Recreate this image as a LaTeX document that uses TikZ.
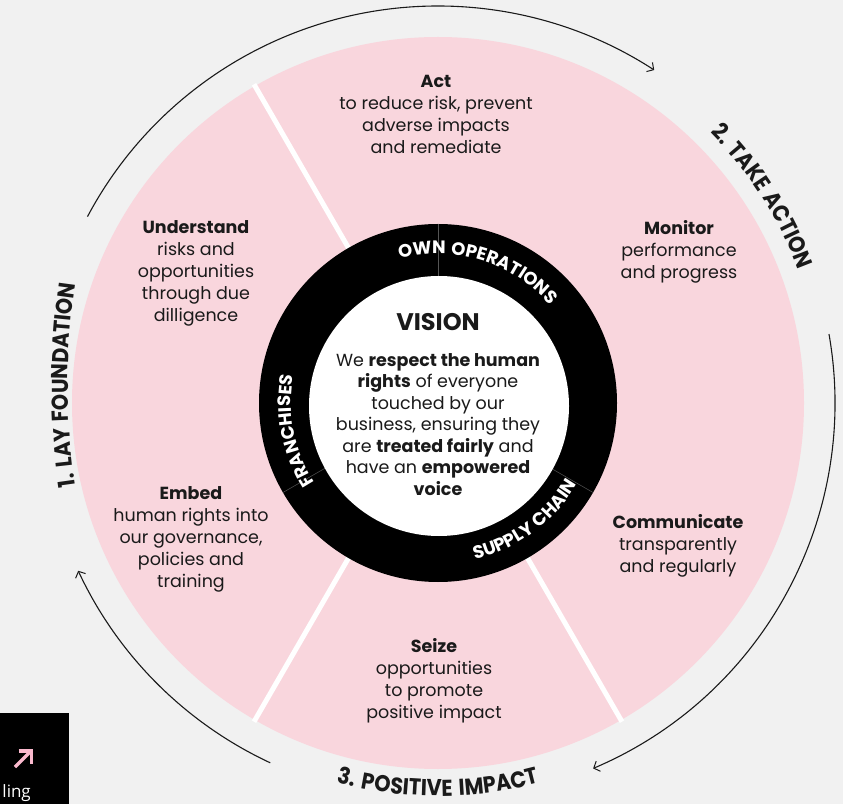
\documentclass[tikz,border=0pt]{standalone}
\usepackage{fontspec}
\setmainfont{Poppins}
\newfontfamily\capsfont[FakeStretch=0.9,LetterSpace=8]{Poppins}
\newfontfamily\ringfont[LetterSpace=5]{Poppins}
\newfontfamily\uifont{Open Sans}
\usetikzlibrary{arrows.meta,decorations.text}
\definecolor{bgc}{RGB}{241,241,241}
\definecolor{pinkf}{RGB}{249,214,221}
\definecolor{ink}{RGB}{26,26,26}
\definecolor{arrowpink}{RGB}{250,185,205}
\definecolor{divgray}{RGB}{85,85,85}
\begin{document}
\begin{tikzpicture}[x=1pt,y=1pt,
  body/.style={align=center, anchor=north, inner sep=0pt, text=ink, font=\fontsize{17.5}{22}\selectfont},
  cyclearrow/.style={line width=1.1pt, draw=ink, -{Straight Barb[length=5pt,width=11pt,line width=1pt]}},
  ringtext/.style={decorate, decoration={text along path, text align=center, text color=white,
      text={|\fontsize{18}{18}\ringfont\bfseries|#1}}},
  outertext/.style={decorate, decoration={text along path, text align=center, text color=ink,
      text={|\fontsize{23}{23}\capsfont\bfseries|#1}}},
  divider/.style={white, line width=5pt},
  ringdiv/.style={divgray, line width=0.5pt}
]
\useasboundingbox (0,0) rectangle (843,804);
\fill[bgc] (0,0) rectangle (843,804);
\coordinate (C) at (438,401);
\coordinate (W) at (439,398);
\coordinate (CL) at (768,419);

% pink disc and white dividers
\fill[pinkf] (C) circle[radius=366];
\foreach \a in {120,240,300}
  \draw[divider] ([shift={(\a:170)}]C) -- ([shift={(\a:368)}]C);

% black ring
\fill[black] (C) circle[radius=179];
\foreach \a in {90,210,330}
  \draw[ringdiv] ([shift={(\a:110)}]C) -- ([shift={(\a:179)}]C);
\fill[white] (W) circle[radius=130];

% ring labels
\path[ringtext={OWN OPERATIONS}] ([shift={(118:149)}]C) arc[start angle=118, end angle=28, radius=149];
\path[ringtext={SUPPLY CHAIN}] ([shift={(-88:161)}]C) arc[start angle=-88, end angle=-19, radius=161];
\path[ringtext={FRANCHISES}] ([shift={(218:147)}]C) arc[start angle=218, end angle=164, radius=147];

% cycle arrows
\draw[cyclearrow] ([shift={(152:397)}]C) arc[start angle=152, end angle=57, radius=397];
\draw[cyclearrow] ([shift={(10:397)}]C) arc[start angle=10, end angle=-67, radius=397];
\draw[cyclearrow] ([shift={(245:397)}]C) arc[start angle=245, end angle=205, radius=397];

% outer labels
\path[outertext={2. TAKE ACTION}] ([shift={(52:384)}]C) arc[start angle=52, end angle=13, radius=384];
\path[outertext={3. POSITIVE IMPACT}] ([shift={(246:393)}]C) arc[start angle=246, end angle=294, radius=393];
\path[outertext={1. LAY FOUNDATION}] ([shift={(192:700)}]CL) arc[start angle=192, end angle=168, radius=700];

% text blocks
\node[body] (act) at (436,729) {\textbf{Act}\\to reduce risk, prevent\\adverse impacts\\and remediate};
\node[body] (und) at (196,584) {\textbf{Understand}\\risks and\\opportunities\\through due\\dilligence};
\node[body] (mon) at (679,584) {\textbf{Monitor}\\performance\\and progress};
\node[body] (emb) at (191,318) {\textbf{Embed}\\human rights into\\our governance,\\policies and\\training};
\node[body] (com) at (678,290) {\textbf{Communicate}\\transparently\\and regularly};
\node[body] (sei) at (434,166) {\textbf{Seize}\\opportunities\\to promote\\positive impact};

% vision
\node[anchor=base, inner sep=0pt, text=ink, font=\fontsize{24}{24}\selectfont\bfseries] (vis) at (438,473) {VISION};
\node[body, font=\fontsize{17.5}{21.5}\selectfont] (vbody) at (438,451)
  {We \textbf{respect the human}\\\textbf{rights} of everyone\\touched by our\\business, ensuring they\\are \textbf{treated fairly} and\\have an \textbf{empowered}\\\textbf{voice}};

% bottom-left box
\fill[black] (0,0) rectangle (69,91);
\draw[arrowpink, line width=3.2pt] (15,37) -- (30,52);
\draw[arrowpink, line width=3.2pt] (18.5,53) -- (31.5,53) -- (31.5,40);
\node[anchor=base east, inner sep=0pt, text=white, font=\uifont\fontsize{17}{17}\selectfont] (lbl) at (31,7) {ling};
\end{tikzpicture}
\end{document}
